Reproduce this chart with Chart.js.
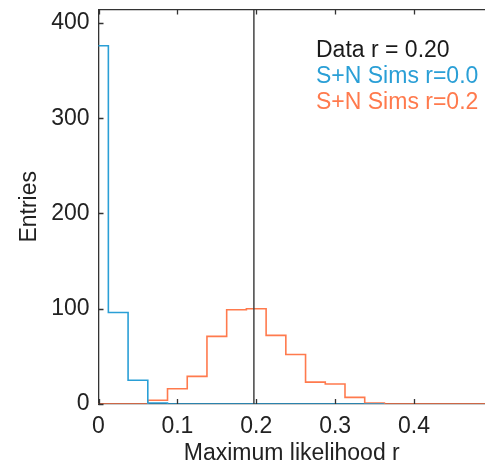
<!DOCTYPE html>
<html>
<head>
<meta charset="utf-8">
<script src="https://cdn.jsdelivr.net/npm/chart.js@4.4.0/dist/chart.umd.min.js"></script>
<style>
  html, body { margin: 0; padding: 0; background: #fff; }
  #wrap { width: 485px; height: 467px; }
</style>
</head>
<body>
<div id="wrap"><canvas id="histChart" width="485" height="467"></canvas></div>
<script>
// histogram bins (centres) and counts
const binWidth = 0.025;
const simsZeroCenters = [0, 0.025, 0.05, 0.075, 0.1, 0.125, 0.15, 0.175, 0.2, 0.225, 0.25, 0.275, 0.3, 0.325, 0.35];
const simsZeroCounts  = [376, 96, 25, 1, 0, 0, 0, 0, 0, 0, 0, 0, 0, 0, 0];
const simsTwoCenters = [0, 0.025, 0.05, 0.075, 0.1, 0.125, 0.15, 0.175, 0.2, 0.225, 0.25, 0.275, 0.3, 0.325, 0.35, 0.375, 0.4, 0.425, 0.45, 0.475, 0.5];
const simsTwoCounts  = [0, 0, 0, 4, 16, 29, 71, 99, 100, 72, 52, 23, 21, 7, 1, 0, 0, 0, 0, 0, 0];
const dataR = 0.197;
const xTicks = [0, 0.1, 0.2, 0.3, 0.4];
const yTicks = [0, 100, 200, 300, 400];
const legendLabels = ["Data r = 0.20", "S+N Sims r=0.0", "S+N Sims r=0.2"];
const legendColors = ["#1a1a1a", "#2a9fd6", "#ff7a4d"];

const FONT = '"Liberation Sans", Arial, sans-serif';
const axisColor = "#333";

// one point per left bin edge plus the closing right edge ("before" steps)
function toSteps(centers, counts) {
  const pts = centers.map((c, i) => ({ x: c - binWidth / 2, y: counts[i] }));
  const last = centers.length - 1;
  pts.push({ x: centers[last] + binWidth / 2, y: counts[last] });
  return pts;
}

// inward ticks + top frame line, like the original plot
const frameTicks = {
  id: "frameTicks",
  afterDraw(chart) {
    const ctx = chart.ctx;
    const area = chart.chartArea;
    const xs = chart.scales.x;
    const ys = chart.scales.y;
    ctx.save();
    ctx.strokeStyle = axisColor;
    ctx.lineWidth = 1.3;
    ctx.beginPath();
    ctx.moveTo(area.left, area.top);
    ctx.lineTo(area.right, area.top);
    xTicks.forEach(v => {
      const px = Math.round(xs.getPixelForValue(v)) + 0.5;
      ctx.moveTo(px, area.bottom);
      ctx.lineTo(px, area.bottom - 5);
      ctx.moveTo(px, area.top);
      ctx.lineTo(px, area.top + 5);
    });
    yTicks.forEach(v => {
      const py = Math.round(ys.getPixelForValue(v)) + 0.5;
      ctx.moveTo(area.left, py);
      ctx.lineTo(area.left + 5, py);
    });
    ctx.stroke();

    // text legend in the upper right
    ctx.font = "23px " + FONT;
    ctx.textBaseline = "alphabetic";
    ctx.textAlign = "left";
    legendLabels.forEach((t, i) => {
      ctx.fillStyle = legendColors[i];
      ctx.fillText(t, 316, 57 + i * 26);
    });
    ctx.restore();
  }
};

const ctx = document.getElementById("histChart").getContext("2d");
new Chart(ctx, {
  type: "line",
  data: {
    datasets: [
      {
        label: legendLabels[1],
        data: toSteps(simsZeroCenters, simsZeroCounts),
        borderColor: legendColors[1],
        borderWidth: 1.6,
        stepped: "before",
        pointRadius: 0,
        fill: false,
        order: 1
      },
      {
        label: legendLabels[2],
        data: toSteps(simsTwoCenters, simsTwoCounts),
        borderColor: legendColors[2],
        borderWidth: 1.6,
        stepped: "before",
        pointRadius: 0,
        fill: false,
        order: 2
      },
      {
        label: legendLabels[0],
        data: [{ x: dataR, y: 0 }, { x: dataR, y: 414 }],
        borderColor: "#444",
        borderWidth: 1.5,
        pointRadius: 0,
        fill: false,
        order: 0
      }
    ]
  },
  options: {
    responsive: false,
    animation: false,
    layout: { padding: { top: 0, right: 0, left: 0, bottom: 0 } },
    plugins: {
      legend: { display: false },
      tooltip: { enabled: false }
    },
    scales: {
      x: {
        type: "linear",
        min: 0,
        max: 0.49,
        afterFit: (scale) => { scale.height = 63; },
        afterBuildTicks: (scale) => { scale.ticks = xTicks.map(v => ({ value: v })); },
        ticks: {
          color: "#222",
          font: { family: FONT, size: 23 },
          padding: 9,
          maxRotation: 0,
          callback: (v) => (v === 0 ? "0" : v.toFixed(1))
        },
        grid: { drawOnChartArea: false, drawTicks: false },
        border: { color: axisColor, width: 1.3 },
        title: {
          display: true,
          text: "Maximum likelihood r",
          color: "#222",
          font: { family: FONT, size: 23 },
          padding: { top: 5, bottom: 0 }
        }
      },
      y: {
        min: 0,
        max: 414,
        afterFit: (scale) => { scale.width = 98.5; },
        afterBuildTicks: (scale) => { scale.ticks = yTicks.map(v => ({ value: v })); },
        ticks: {
          color: "#222",
          font: { family: FONT, size: 23, lineHeight: 0.05 },
          padding: 9
        },
        grid: { drawOnChartArea: false, drawTicks: false },
        border: { color: axisColor, width: 1.3 },
        title: {
          display: true,
          text: "Entries",
          color: "#222",
          font: { family: FONT, size: 23 },
          padding: { top: 16, bottom: 0 }
        }
      }
    }
  },
  plugins: [frameTicks]
});
</script>
</body>
</html>
